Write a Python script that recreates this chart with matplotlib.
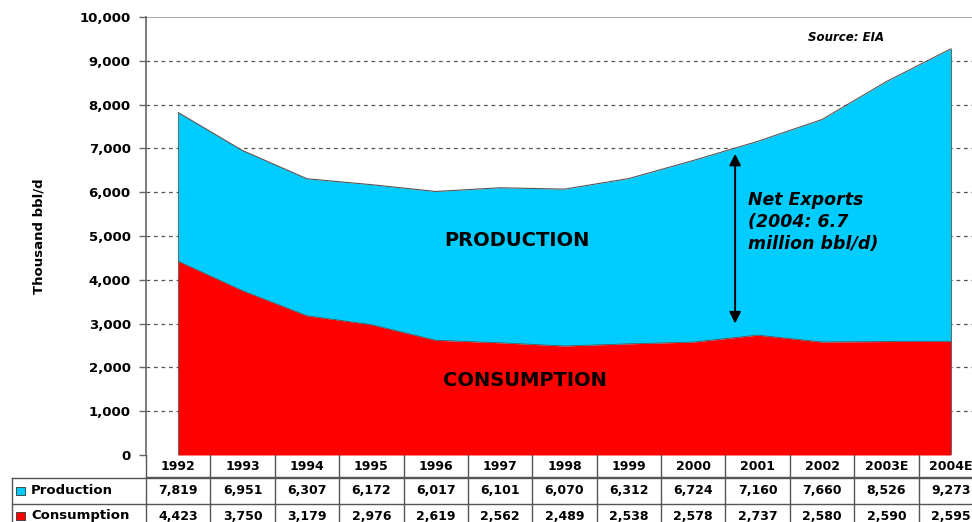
import numpy as np
import matplotlib.pyplot as plt
from matplotlib.transforms import blended_transform_factory
from matplotlib.patches import Rectangle

years = ['1992', '1993', '1994', '1995', '1996', '1997', '1998',
         '1999', '2000', '2001', '2002', '2003E', '2004E']
production = [7819, 6951, 6307, 6172, 6017, 6101, 6070, 6312, 6724, 7160, 7660, 8526, 9273]
consumption = [4423, 3750, 3179, 2976, 2619, 2562, 2489, 2538, 2578, 2737, 2580, 2590, 2595]

CYAN = '#00ccff'
RED = '#ff0000'
plt.rcParams['font.family'] = ['DejaVu Sans']

W, H = 972, 522
fig = plt.figure(figsize=(W / 100, H / 100), dpi=100)
# plot area in pixels: x 146..983, y 17..455
ax = fig.add_axes([146 / W, (H - 455) / H, (983 - 146) / W, (455 - 17) / H])

x = np.arange(len(years))
ax.fill_between(x, consumption, production, color=CYAN, lw=0, zorder=2)
ax.fill_between(x, 0, consumption, color=RED, lw=0, zorder=2)
ax.plot(x, production, color='#555555', lw=0.8, zorder=3)
ax.plot(x, consumption, color='#555555', lw=0.6, zorder=3)
ax.plot([x[0], x[0]], [0, production[0]], color='#555555', lw=0.6, zorder=3)
ax.plot([x[-1], x[-1]], [0, production[-1]], color='#555555', lw=0.6, zorder=3)

ax.set_xlim(-0.5, len(years) - 0.5)
ax.set_ylim(0, 10000)
ax.set_yticks(np.arange(0, 10001, 1000))
ax.set_yticklabels([f'{v:,}' for v in range(0, 10001, 1000)], fontsize=9.5, fontweight='bold')
ax.set_xticks([])
ax.tick_params(axis='y', direction='out', length=5, width=1, color='#666666', pad=6)
for v in range(1000, 10000, 1000):
    ax.axhline(v, color='#555555', lw=0.9, ls=(0, (3, 3)), zorder=1)
ax.axhline(10000, color='#999999', lw=1.2, zorder=1)
for s in ['top', 'right', 'bottom']:
    ax.spines[s].set_visible(False)
ax.spines['left'].set_color('#666666')
ax.spines['left'].set_linewidth(1.2)
ax.set_ylabel('Thousand bbl/d', fontsize=9.5, fontweight='bold')
ax.yaxis.set_label_coords(-0.12, 0.5)

# in-chart text
ax.text(5.26, 4890, 'PRODUCTION', fontsize=14, fontweight='bold', ha='center', va='center', zorder=4)
ax.text(5.38, 1710, 'CONSUMPTION', fontsize=14, fontweight='bold', ha='center', va='center', zorder=4)
ax.text(8.85, 5320, 'Net Exports\n(2004: 6.7\nmillion bbl/d)', fontsize=12.5,
        fontweight='bold', style='italic', ha='left', va='center', linespacing=1.3, zorder=4)
ax.text(10.37, 9540, 'Source: EIA', fontsize=8.5, fontweight='bold', style='italic',
        ha='center', va='center', zorder=4)
ax.annotate('', xy=(8.65, 6940), xytext=(8.65, 2940),
            arrowprops=dict(arrowstyle='<|-|>', color='black', lw=1.4, mutation_scale=17), zorder=5)

# data table below the plot, in figure pixels for y
tr = blended_transform_factory(ax.transData, fig.transFigure)
def fy(py):
    return (H - py) / H

line_kw = dict(color='#555555', lw=1.0, clip_on=False)
fig.add_artist(plt.Line2D([146 / W, 1], [fy(477), fy(477)], **line_kw))
fig.add_artist(plt.Line2D([12 / W, 1], [fy(478), fy(478)], **line_kw))
fig.add_artist(plt.Line2D([12 / W, 1], [fy(504), fy(504)], **line_kw))
fig.add_artist(plt.Line2D([12 / W, 12 / W], [fy(478), fy(532)], **line_kw))
fig.add_artist(plt.Line2D([146 / W, 146 / W], [fy(455), fy(532)], **line_kw))
for i in range(1, len(years) + 1):
    xb = i - 0.5
    ax.plot([xb, xb], [fy(455), fy(532)], transform=tr, **line_kw)

for i, yr in enumerate(years):
    ax.text(i, fy(466), yr, transform=tr, ha='center', va='center', fontsize=9, fontweight='bold')
    ax.text(i, fy(491), f'{production[i]:,}', transform=tr, ha='center', va='center',
            fontsize=9, fontweight='bold')
    ax.text(i, fy(516), f'{consumption[i]:,}', transform=tr, ha='center', va='center',
            fontsize=9, fontweight='bold')

for py, col, label in [(491, CYAN, 'Production'), (516, RED, 'Consumption')]:
    fig.add_artist(Rectangle((16 / W, fy(py + 4)), 9 / W, 8 / H, transform=fig.transFigure,
                             facecolor=col, edgecolor='#333333', lw=0.6))
    fig.text(31 / W, fy(py), label, ha='left', va='center', fontsize=9.5, fontweight='bold')

fig.savefig('out.png', dpi=100)
